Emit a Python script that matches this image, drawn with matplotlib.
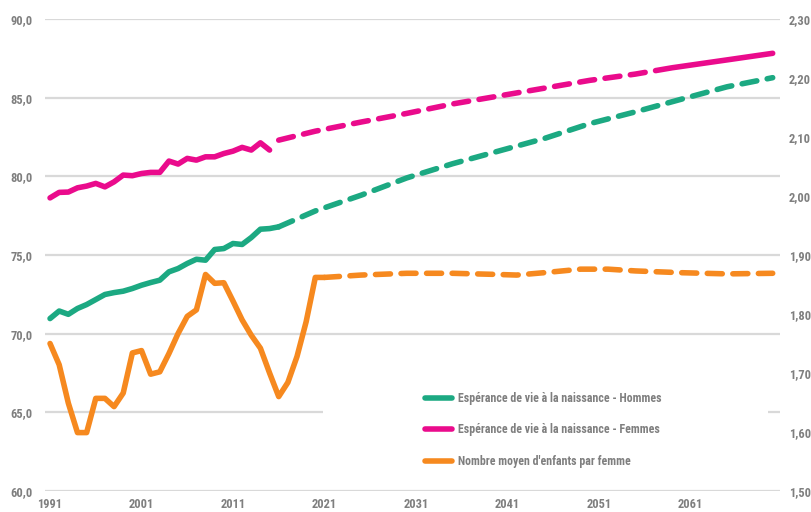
import matplotlib
matplotlib.use("Agg")
import matplotlib.pyplot as plt
from matplotlib.patches import Rectangle
from matplotlib.lines import Line2D
from matplotlib import font_manager as fm

# ---- data ----
years_f_obs = list(range(1991, 2016))
femmes_obs = [78.63, 78.98, 79.00, 79.27, 79.38, 79.55, 79.33, 79.65, 80.08, 80.04,
              80.18, 80.25, 80.25, 80.97, 80.78, 81.14, 81.03, 81.24, 81.24, 81.45,
              81.60, 81.84, 81.67, 82.13, 81.67]
years_f_proj = [2016, 2020, 2025, 2030, 2035, 2040, 2045, 2050, 2055, 2059]
femmes_proj = [82.30, 82.87, 83.45, 84.00, 84.60, 85.10, 85.60, 86.10, 86.50, 86.90]
years_f_end = [2059, 2065, 2070]
femmes_end = [86.90, 87.40, 87.82]

years_h_obs = list(range(1991, 2017))
hommes_obs = [70.96, 71.44, 71.23, 71.60, 71.85, 72.17, 72.49, 72.61, 72.70, 72.87,
              73.08, 73.25, 73.40, 73.93, 74.14, 74.46, 74.73, 74.67, 75.35, 75.41,
              75.73, 75.67, 76.11, 76.64, 76.68, 76.79]
years_h_proj = [2016, 2020, 2025, 2030, 2035, 2040, 2045, 2050, 2055, 2060, 2065, 2070]
hommes_proj = [76.79, 77.80, 78.80, 79.90, 80.80, 81.60, 82.40, 83.35, 84.10, 84.90, 85.69, 86.27]

years_e_obs = list(range(1991, 2022))
enfants_obs = [1.750, 1.714, 1.649, 1.599, 1.599, 1.657, 1.657, 1.643, 1.666, 1.734,
               1.738, 1.698, 1.702, 1.733, 1.767, 1.796, 1.807, 1.867, 1.852, 1.853,
               1.822, 1.790, 1.764, 1.742, 1.700, 1.660, 1.684, 1.728, 1.787, 1.862,
               1.862]
years_e_proj = [2021, 2022, 2025, 2030, 2035, 2040, 2042, 2045, 2049, 2052, 2055, 2060, 2065, 2070]
enfants_proj = [1.862, 1.863, 1.866, 1.869, 1.869, 1.867, 1.866, 1.870, 1.876, 1.876,
                1.873, 1.870, 1.868, 1.869]

left_ticks = [60, 65, 70, 75, 80, 85, 90]
left_labels = ["60,0", "65,0", "70,0", "75,0", "80,0", "85,0", "90,0"]
right_ticks = [1.5, 1.6, 1.7, 1.8, 1.9, 2.0, 2.1, 2.2, 2.3]
right_labels = ["1,50", "1,60", "1,70", "1,80", "1,90", "2,00", "2,10", "2,20", "2,30"]
x_ticks = [1991, 2001, 2011, 2021, 2031, 2041, 2051, 2061]

legend_labels = ["Espérance de vie à la naissance - Hommes",
                 "Espérance de vie à la naissance - Femmes",
                 "Nombre moyen d'enfants par femme"]

# ---- style ----
GREEN = "#1ca982"
PINK = "#ea0b8c"
ORANGE = "#f6891f"
GRID = "#d9d9d9"
TXT = "#7f7f7f"

available = {f.name for f in fm.fontManager.ttflist}
candidates = ["Roboto Condensed", "Barlow Condensed", "Open Sans Condensed",
              "PT Sans Narrow", "Archivo Narrow", "Liberation Sans Narrow",
              "DejaVu Sans Condensed", "Arial Narrow"]
chosen = next((c for c in candidates if c in available), None)
FAM = ([chosen] if chosen else []) + ["DejaVu Sans"]
plt.rcParams["font.family"] = FAM
FS = 9 if chosen else 7.5
FS_LEG = 8.6 if chosen else 7.2

W, H = 812, 512
fig = plt.figure(figsize=(W / 100, H / 100), dpi=100)
L, R, T, B = 45, 780, 19, 491
ax = fig.add_axes([L / W, 1 - B / H, (R - L) / W, (B - T) / H])
ax2 = ax.twinx()

ax.set_xlim(1990.45, 2070.8)
ax.set_ylim(60, 90)
ax2.set_ylim(1.5, 2.3)

for a in (ax, ax2):
    for s in a.spines.values():
        s.set_visible(False)
    a.tick_params(length=0)

ax.set_yticks(left_ticks)
ax.set_yticklabels(left_labels)
ax2.set_yticks(right_ticks)
ax2.set_yticklabels(right_labels)
ax.set_xticks(x_ticks)
ax.set_xticklabels([str(v) for v in x_ticks])
ax.tick_params(axis="y", pad=9, labelsize=FS, labelcolor=TXT)
ax2.tick_params(axis="y", pad=6.5, labelsize=FS, labelcolor=TXT)
ax.tick_params(axis="x", pad=5, labelsize=FS, labelcolor=TXT)
for lab in ax.get_xticklabels() + ax.get_yticklabels() + ax2.get_yticklabels():
    lab.set_fontweight("bold")

ax.set_axisbelow(True)
ax.yaxis.grid(True, color=GRID, lw=1.6, zorder=0)
ax.set_zorder(ax2.get_zorder() + 1)
ax.patch.set_visible(False)

LW = 4.0
dash = (0, (2.7, 1.9))
kw = dict(lw=LW, solid_capstyle="round", dash_capstyle="round", solid_joinstyle="round")

def to_left(v):
    return 60 + (v - 1.5) / 0.8 * 30

ax.plot(years_e_obs, [to_left(v) for v in enfants_obs], color=ORANGE, zorder=3, **kw)
ax.plot(years_e_proj, [to_left(v) for v in enfants_proj], color=ORANGE, ls=dash, zorder=3, **kw)
ax.plot(years_h_obs, hommes_obs, color=GREEN, zorder=3, **kw)
ax.plot(years_h_proj, hommes_proj, color=GREEN, ls=dash, zorder=3, **kw)
ax.plot(years_f_obs, femmes_obs, color=PINK, zorder=3, **kw)
ax.plot(years_f_proj, femmes_proj, color=PINK, ls=dash, zorder=3, **kw)
ax.plot(years_f_end, femmes_end, color=PINK, zorder=3, **kw)

# white legend box hiding the gridline
fx = lambda px: px / W
fy = lambda py: 1 - py / H
ax.add_patch(Rectangle((fx(323), fy(478)), fx(768) - fx(323), fy(372) - fy(478),
                       transform=fig.transFigure, facecolor="white",
                       edgecolor="none", zorder=1, clip_on=False))

handles = [Line2D([0], [0], color=c, lw=LW, solid_capstyle="round")
           for c in (GREEN, PINK, ORANGE)]
leg = fig.legend(handles, legend_labels, loc="upper left",
                 bbox_to_anchor=(fx(419), fy(386)), frameon=False,
                 handlelength=2.3, handletextpad=0.5, labelspacing=1.55,
                 borderpad=0.0, prop=dict(family=FAM, size=FS_LEG, weight="bold"))
for t in leg.get_texts():
    t.set_color(TXT)

fig.savefig("out.png", dpi=100)
